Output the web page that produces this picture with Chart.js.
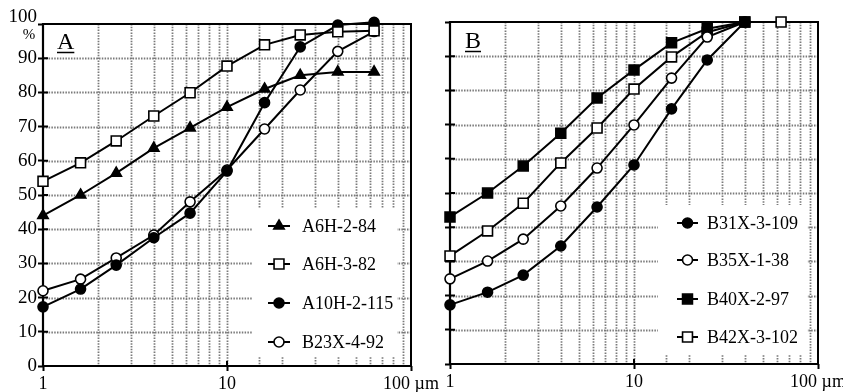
<!DOCTYPE html>
<html><head><meta charset="utf-8">
<script src="https://cdn.jsdelivr.net/npm/chart.js@4/dist/chart.umd.min.js"></script>
<style>
html,body{margin:0;padding:0;background:#fff;width:843px;height:392px;overflow:hidden}
#ca{position:absolute;left:0;top:0}
#cb{position:absolute;left:400px;top:0}
</style></head><body>
<canvas id="ca" width="460" height="392"></canvas>
<canvas id="cb" width="443" height="392"></canvas>
<script>
// ---------- data ----------
const sizes = [1, 1.6, 2.5, 4, 6.3, 10, 16, 25, 40, 63];
const xTickLabels = {1: '1', 10: '10', 100: '100 µm'};
const yTickLabelsA = ['0','10','20','30','40','50','60','70','80','90','100'];

const namesA = ['A6H-2-84', 'A6H-3-82', 'A10H-2-115', 'B23X-4-92'];
const a6h_2_84   = [44, 50, 56.4, 63.7, 69.6, 75.7, 81, 85, 86, 86];
const a6h_3_82   = [54, 59.4, 65.8, 73.1, 79.9, 87.7, 93.9, 96.8, 97.7, 98];
const a10h_2_115 = [17.3, 22.5, 29.5, 37.5, 44.7, 57, 77, 93.3, 99.7, 100.5];
const b23x_4_92  = [22, 25.4, 31.6, 38.3, 48, 57.3, 69.3, 80.7, 92, 97.8];

const namesB = ['B31X-3-109', 'B35X-1-38', 'B40X-2-97', 'B42X-3-102'];
const b31x_3_109 = [17.3, 21, 26, 34.5, 45.9, 58.2, 74.6, 88.9, 100, null];
const b35x_1_38  = [24.9, 30.1, 36.5, 46.2, 57.3, 69.9, 83.6, 95.6, 100, null];
const b40x_2_97  = [43, 50, 57.9, 67.5, 77.8, 86, 93.9, 98, 100, null];
const b42x_3_102 = [31.6, 38.9, 47, 58.8, 69, 80.4, 89.8, 97, 100, 100];

// ---------- styles ----------
const FONT = "'Liberation Serif', 'DejaVu Serif', serif";
const GRID = '#7a7a7a';
const stylesA = [
  {ps: 'triangle', r: 6, fill: '#000'},
  {ps: 'rect', r: 7, fill: '#fff'},
  {ps: 'circle', r: 5, fill: '#000'},
  {ps: 'circle', r: 5, fill: '#fff'}
];
const stylesB = [
  {ps: 'circle', r: 5, fill: '#000'},
  {ps: 'circle', r: 5, fill: '#fff'},
  {ps: 'rect', r: 7, fill: '#000'},
  {ps: 'rect', r: 7, fill: '#fff'}
];

function makeDatasets(names, series, styles) {
  return names.map((n, i) => ({
    label: n,
    data: sizes.map((x, j) => ({x: x, y: series[i][j]})).filter(p => p.y !== null),
    borderColor: '#000',
    borderWidth: 2,
    pointStyle: styles[i].ps,
    pointRadius: styles[i].r,
    pointHoverRadius: styles[i].r,
    pointBackgroundColor: styles[i].fill,
    pointBorderColor: '#000',
    pointBorderWidth: 1.6,
    fill: false,
    tension: 0,
    clip: false
  }));
}

function drawMarker(ctx, st, x, y) {
  ctx.save();
  ctx.fillStyle = st.fill; ctx.strokeStyle = '#000'; ctx.lineWidth = 1.6;
  if (Chart.helpers && Chart.helpers.drawPoint) {
    Chart.helpers.drawPoint(ctx, {pointStyle: st.ps, radius: st.r, rotation: 0, borderWidth: 1.6}, x, y);
  } else {
    ctx.beginPath();
    if (st.ps === 'circle') ctx.arc(x, y, st.r, 0, Math.PI * 2);
    else if (st.ps === 'rect') { const s = st.r * Math.SQRT1_2; ctx.rect(x - s, y - s, 2 * s, 2 * s); }
    else { ctx.moveTo(x, y - st.r); ctx.lineTo(x + st.r * 0.87, y + st.r * 0.5); ctx.lineTo(x - st.r * 0.87, y + st.r * 0.5); ctx.closePath(); }
    ctx.fill(); ctx.stroke();
  }
  ctx.restore();
}

const framePlugin = {
  id: 'frame',
  beforeDatasetsDraw(chart, args, opts) {
    const ctx = chart.ctx, a = chart.chartArea;
    const xs = chart.scales.x, ys = chart.scales.y;
    ctx.save();
    // dotted grid from the scales' own ticks
    ctx.strokeStyle = GRID;
    ctx.lineWidth = 1.8;
    ctx.setLineDash([1.5, 1.3]);
    ctx.beginPath();
    xs.ticks.forEach(t => {
      if (t.value <= 1 || t.value >= 100) return;
      const x = Math.round(xs.getPixelForValue(t.value)) + 0.5;
      ctx.moveTo(x, a.top); ctx.lineTo(x, a.bottom);
    });
    ys.ticks.forEach(t => {
      if (t.value <= 0 || t.value >= 100) return;
      const y = Math.round(ys.getPixelForValue(t.value)) + 0.5;
      ctx.moveTo(a.left, y); ctx.lineTo(a.right, y);
    });
    ctx.stroke();
    ctx.setLineDash([]);
    // legend box
    const lg = opts.legend;
    ctx.fillStyle = '#fff';
    ctx.fillRect(lg.box[0], lg.box[1], lg.box[2], lg.box[3]);
    // frame
    ctx.strokeStyle = '#000';
    ctx.lineWidth = 2;
    ctx.beginPath();
    ctx.moveTo(a.left, a.top); ctx.lineTo(a.right, a.top); ctx.lineTo(a.right, a.bottom);
    ctx.stroke();
    ctx.lineWidth = 2.2;
    ctx.beginPath();
    ctx.moveTo(a.left, a.top - 1); ctx.lineTo(a.left, a.bottom); ctx.lineTo(a.right + 1, a.bottom);
    ctx.stroke();
    // inner tick marks
    ctx.lineWidth = 2;
    ctx.beginPath();
    for (let v = 0; v <= 100; v += 10) {
      const y = ys.getPixelForValue(v);
      ctx.moveTo(a.left, y); ctx.lineTo(a.left + 5, y);
    }
    [1, 10, 100].forEach(v => {
      const x = xs.getPixelForValue(v);
      ctx.moveTo(x, a.bottom); ctx.lineTo(x, a.bottom - 5);
    });
    ctx.stroke();
    // panel letter
    ctx.fillStyle = '#000';
    ctx.font = '24px ' + FONT;
    ctx.textAlign = 'left'; ctx.textBaseline = 'alphabetic';
    ctx.fillText(opts.letter, opts.letterPos[0], opts.letterPos[1]);
    const lw = ctx.measureText(opts.letter).width;
    ctx.lineWidth = 1.5;
    ctx.beginPath();
    ctx.moveTo(opts.letterPos[0], opts.letterPos[1] + 3.5);
    ctx.lineTo(opts.letterPos[0] + lw, opts.letterPos[1] + 3.5);
    ctx.stroke();
    if (opts.percent) {
      ctx.font = '15px ' + FONT;
      ctx.textAlign = 'center';
      ctx.fillText('%', opts.percent[0], opts.percent[1]);
    }
    // legend entries
    ctx.font = '18px ' + FONT;
    ctx.textAlign = 'left'; ctx.textBaseline = 'middle';
    chart.data.datasets.forEach((ds, i) => {
      const y = lg.rows[i];
      ctx.strokeStyle = '#000'; ctx.lineWidth = 2;
      ctx.beginPath();
      ctx.moveTo(lg.sym[0], y); ctx.lineTo(lg.sym[1], y);
      ctx.stroke();
      drawMarker(ctx, opts.styles[i], (lg.sym[0] + lg.sym[1]) / 2, y);
      ctx.fillStyle = '#000';
      ctx.fillText(ds.label, lg.textX, y + 1);
    });
    ctx.restore();
  }
};

function makeChart(id, datasets, cfg) {
  return new Chart(document.getElementById(id), {
    type: 'line',
    data: {datasets: datasets},
    plugins: [framePlugin],
    options: {
      responsive: false,
      animation: false,
      events: [],
      layout: {padding: cfg.padding},
      plugins: {
        legend: {display: false},
        tooltip: {enabled: false},
        frame: cfg.frame
      },
      scales: {
        x: {
          type: 'logarithmic',
          min: 1, max: 100,
          afterFit(s) { s.height = cfg.xHeight; s.paddingLeft = 0; s.paddingRight = 0; },
          border: {display: false},
          grid: {
            drawOnChartArea: false,
            drawTicks: true,
            tickLength: 5,
            tickWidth: 2,
            tickBorderDash: [],
            tickColor: c => (c.tick && [1, 10, 100].includes(c.tick.value)) ? '#000' : 'rgba(0,0,0,0)'
          },
          ticks: {
            autoSkip: false,
            maxRotation: 0,
            padding: 2,
            color: '#000',
            font: {family: FONT, size: 18},
            callback: v => xTickLabels[v] !== undefined ? xTickLabels[v] : ''
          }
        },
        y: {
          type: 'linear',
          min: 0, max: 100,
          afterFit(s) { s.width = cfg.yWidth; s.paddingTop = 0; s.paddingBottom = 0; },
          border: {display: false},
          grid: {
            drawOnChartArea: false,
            drawTicks: true,
            tickLength: 5,
            tickWidth: 2,
            tickBorderDash: [],
            tickColor: '#000'
          },
          ticks: {
            display: cfg.yLabels,
            autoSkip: false,
            stepSize: 10,
            padding: 1,
            color: '#000',
            font: {family: FONT, size: 19, lineHeight: 0.75},
            callback: (v) => {
              const t = yTickLabelsA[Math.round(v / 10)];
              return v === 100 ? [t, ''] : t;
            }
          }
        }
      }
    }
  });
}

makeChart('ca', makeDatasets(namesA, [a6h_2_84, a6h_3_82, a10h_2_115, b23x_4_92], stylesA), {
  padding: {left: 0, right: 49, top: 24, bottom: 0},
  xHeight: 26, yWidth: 43, yLabels: true,
  frame: {
    letter: 'A', letterPos: [57, 49], percent: [29, 39], styles: stylesA,
    legend: {box: [252, 208, 145, 149], rows: [226, 264, 303, 342], sym: [268, 290], textX: 302}
  }
});

makeChart('cb', makeDatasets(namesB, [b31x_3_109, b35x_1_38, b40x_2_97, b42x_3_102], stylesB), {
  padding: {left: 0, right: 25, top: 22, bottom: 0},
  xHeight: 28, yWidth: 50, yLabels: false,
  frame: {
    letter: 'B', letterPos: [65, 48], percent: null, styles: stylesB,
    legend: {box: [258, 205, 149, 150], rows: [223, 260, 299, 337], sym: [277, 298], textX: 307}
  }
});
</script>
</body></html>
